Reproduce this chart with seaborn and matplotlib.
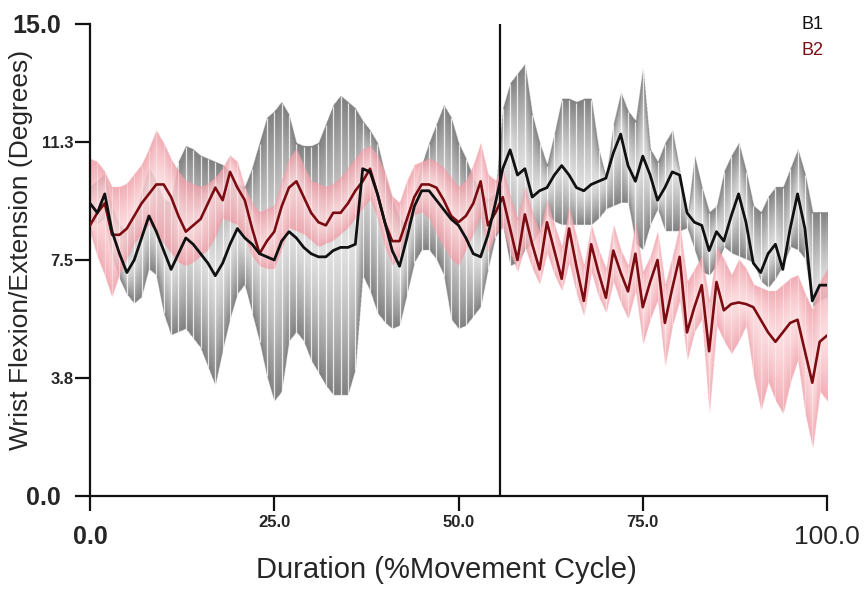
import numpy as np
import matplotlib
matplotlib.use("Agg")
import matplotlib.pyplot as plt
import seaborn as sns

# % of movement cycle
pct = list(range(101))

b1_mean = [9.3, 9.0, 9.6, 8.4, 7.7, 7.1, 7.5, 8.2, 8.9, 8.4,
           7.8, 7.2, 7.7, 8.2, 8.0, 7.7, 7.4, 7.0, 7.4, 8.0,
           8.5, 8.2, 8.0, 7.7, 7.6, 7.5, 8.1, 8.4, 8.2, 7.9,
           7.7, 7.6, 7.6, 7.8, 7.9, 7.9, 8.0, 10.4, 10.3, 9.6,
           8.7, 7.8, 7.3, 8.2, 9.2, 9.7, 9.7, 9.4, 9.1, 8.8,
           8.6, 8.2, 7.7, 7.6, 8.3, 9.3, 10.4, 11.0, 10.2, 10.4,
           9.5, 9.7, 9.8, 10.2, 10.5, 10.2, 9.8, 9.7, 9.9, 10.0,
           10.1, 10.9, 11.5, 10.5, 10.0, 10.8, 10.2, 9.4, 9.8, 10.3,
           10.2, 9.0, 8.7, 8.6, 7.8, 8.4, 8.1, 8.9, 9.6, 8.7,
           7.4, 7.1, 7.7, 8.0, 7.2, 8.5, 9.6, 8.5, 6.2, 6.7,
           6.7]
b1_upper = [9.8, 10.0, 10.2, 9.2, 8.6, 8.4, 8.8, 9.6, 10.4, 10.0,
            9.4, 9.3, 10.6, 11.1, 11.0, 10.8, 10.7, 10.6, 10.5, 10.3,
            9.9, 9.8, 10.4, 11.2, 12.0, 12.2, 12.5, 12.1, 11.2, 11.1,
            11.1, 11.2, 11.8, 12.4, 12.7, 12.5, 12.3, 11.9, 11.6, 11.2,
            10.2, 9.4, 8.8, 8.6, 9.6, 10.5, 11.2, 11.8, 12.4, 12.0,
            11.2, 10.7, 10.1, 9.6, 9.4, 9.6, 12.3, 13.1, 13.4, 13.7,
            12.1, 11.2, 10.5, 11.5, 12.6, 12.6, 12.5, 12.6, 12.6, 11.0,
            10.1, 11.8, 12.8, 12.2, 11.9, 13.6, 11.0, 10.6, 11.2, 11.6,
            10.3, 8.8, 10.8, 9.8, 9.0, 9.2, 10.3, 10.8, 11.2, 10.3,
            9.2, 9.0, 9.5, 9.8, 9.8, 10.4, 11.0, 10.2, 9.0, 9.0,
            9.0]
b1_lower = [8.8, 8.6, 8.8, 7.6, 6.9, 6.4, 6.1, 6.3, 7.2, 7.0,
            5.8, 5.1, 5.2, 5.3, 5.0, 4.7, 4.1, 3.5, 4.6, 5.6,
            6.4, 6.7, 5.8, 4.9, 3.8, 3.0, 3.3, 4.9, 5.2, 4.9,
            4.3, 3.9, 3.5, 3.2, 3.2, 3.2, 4.0, 7.0, 6.5, 5.8,
            5.5, 5.3, 5.4, 6.4, 7.4, 7.8, 7.8, 7.5, 7.0, 5.6,
            5.3, 5.4, 5.7, 6.0, 7.2, 8.2, 8.6, 7.3, 7.4, 7.8,
            8.0, 8.4, 8.9, 8.7, 8.6, 8.6, 8.6, 8.6, 8.6, 8.8,
            9.1, 9.2, 9.3, 9.3, 8.0, 7.8, 8.6, 9.1, 8.4, 8.4,
            8.4, 8.5, 7.8, 7.1, 7.0, 7.3, 7.9, 7.7, 7.6, 7.5,
            7.4, 6.8, 6.6, 6.9, 7.3, 7.9, 7.8, 7.5, 6.0, 6.2,
            6.3]

b2_mean = [8.6, 9.0, 9.3, 8.3, 8.3, 8.5, 8.9, 9.3, 9.6, 9.9,
           9.9, 9.5, 8.9, 8.4, 8.6, 8.8, 9.3, 9.8, 9.4, 10.3,
           9.8, 9.4, 8.5, 7.7, 8.1, 8.4, 9.2, 9.8, 10.0, 9.5,
           9.0, 8.7, 8.6, 9.0, 9.0, 9.3, 9.7, 10.0, 10.4, 9.6,
           8.7, 8.1, 8.1, 8.8, 9.5, 9.9, 9.9, 9.8, 9.4, 8.9,
           8.7, 8.9, 9.3, 10.0, 8.6, 9.0, 9.5, 8.5, 7.5, 8.95,
           8.0, 7.2, 8.7, 7.8, 6.9, 8.5, 7.3, 6.2, 8.0, 7.1,
           6.3, 7.8, 7.1, 6.5, 7.7, 6.0, 6.8, 7.5, 5.5, 6.6,
           7.6, 5.2, 6.0, 6.7, 4.6, 6.8, 5.9, 6.1, 6.15, 6.1,
           6.0, 5.6, 5.2, 4.9, 5.2, 5.5, 5.6, 4.6, 3.6, 4.9,
           5.1]
b2_upper = [10.7, 10.6, 10.3, 9.8, 9.8, 9.9, 10.2, 10.5, 11.0, 11.6,
            11.2, 10.7, 10.3, 10.0, 9.9, 9.8, 9.9, 10.1, 10.4, 10.8,
            10.6, 9.8, 9.3, 9.0, 9.1, 9.2, 10.0, 10.7, 11.0, 10.5,
            10.0, 9.9, 9.8, 9.9, 10.1, 10.4, 10.7, 11.0, 11.1, 10.8,
            10.3, 9.5, 9.3, 10.0, 10.5, 10.6, 10.7, 10.6, 10.4, 10.1,
            9.8, 10.0, 10.5, 11.2, 10.2, 10.0, 10.4, 9.5, 8.8, 9.8,
            9.0, 8.4, 9.4, 8.6, 7.9, 9.2, 8.2, 7.3, 8.6, 7.8,
            7.2, 8.6, 7.8, 7.3, 8.7, 7.1, 7.6, 8.4, 6.7, 7.6,
            8.6, 6.8, 7.2, 7.6, 6.2, 7.9, 7.5, 7.0, 7.5, 7.2,
            6.7, 6.6, 6.5, 6.5, 6.7, 6.9, 7.0, 6.4, 5.9, 6.8,
            7.2]
b2_lower = [8.4, 7.6, 7.0, 6.3, 7.0, 7.5, 8.0, 8.3, 8.6, 8.4,
            8.0, 7.7, 7.4, 7.3, 7.4, 7.6, 7.8, 8.2, 8.8, 8.7,
            8.6, 8.2, 7.6, 7.3, 7.2, 7.2, 7.8, 8.5, 8.4, 8.3,
            8.1, 7.9, 8.0, 8.1, 8.3, 8.5, 8.8, 9.1, 9.4, 8.8,
            7.9, 7.3, 7.6, 8.6, 8.9, 9.0, 8.8, 8.3, 7.9, 7.5,
            7.3, 7.8, 8.3, 8.9, 7.7, 8.3, 8.5, 7.7, 7.1, 7.9,
            7.2, 6.7, 7.7, 7.0, 6.5, 7.4, 6.4, 5.7, 7.1, 6.3,
            5.8, 6.8, 6.1, 5.6, 6.5, 4.8, 5.6, 6.2, 4.1, 5.4,
            6.2, 4.3, 5.2, 5.6, 2.6, 5.4, 4.9, 4.5, 4.9, 5.4,
            3.8, 2.7, 3.6, 3.0, 2.6, 3.6, 4.3, 2.6, 1.5, 3.3,
            3.0]

phase_split = 55.6

x_ticks = [0, 25, 50, 75, 100]
x_tick_labels = ["0.0", "25.0", "50.0", "75.0", "100.0"]
y_ticks = [0, 3.75, 7.5, 11.25, 15]
y_tick_labels = ["0.0", "3.8", "7.5", "11.3", "15.0"]

series_names = ["B1", "B2"]
line_colors = ["#111111", "#7d0c12"]

sns.set_style("ticks")
plt.rcParams["font.family"] = ["Liberation Sans", "DejaVu Sans"]

fig = plt.figure(figsize=(8.67, 5.95), dpi=100)
ax = fig.add_axes([0.1038, 0.1664, 0.8501, 0.7933])


def shaded_band(ax, x, lo, mid, hi, light, dark, alpha, z):
    """Band between lo and hi, shading darker toward the outer edges."""
    gx = np.linspace(0, 100, 2000)
    gy = np.linspace(0, 15, 900)
    L = np.interp(gx, x, lo)
    H = np.interp(gx, x, hi)
    M = np.clip(np.interp(gx, x, mid), L, H)
    Y = gy[:, None]
    up = (Y - M) / np.maximum(H - M, 1e-3)
    dn = (M - Y) / np.maximum(M - L, 1e-3)
    t = np.clip(np.where(Y >= M, up, dn), 0, 1) ** 1.3
    inside = (Y >= L) & (Y <= H)
    light = np.array(light)
    dark = np.array(dark)
    rgba = np.zeros((len(gy), len(gx), 4))
    rgba[..., :3] = light * (1 - t[..., None]) + dark * t[..., None]
    rgba[..., 3] = inside * alpha
    ax.imshow(rgba, extent=(0, 100, 0, 15), origin="lower", aspect="auto",
              interpolation="bilinear", zorder=z)


# B1 band (grey, striped)
shaded_band(ax, pct, b1_lower, b1_mean, b1_upper,
            (0.88, 0.88, 0.88), (0.50, 0.50, 0.50), 1.0, 1)
ax.vlines(pct, b1_lower, b1_upper, colors="white", linewidth=0.9,
          alpha=0.8, zorder=1.1)

# B2 band (pink, striped)
shaded_band(ax, pct, b2_lower, b2_mean, b2_upper,
            (0.99, 0.85, 0.86), (0.94, 0.62, 0.66), 0.85, 2)
ax.vlines(pct, b2_lower, b2_upper, colors="white", linewidth=0.7,
          alpha=0.4, zorder=2.1)

sns.lineplot(x=pct, y=b1_mean, color=line_colors[0], linewidth=2.0,
             ax=ax, zorder=4)
sns.lineplot(x=pct, y=b2_mean, color=line_colors[1], linewidth=1.9,
             ax=ax, zorder=3)

ax.axvline(phase_split, color="#111111", linewidth=1.6, zorder=5)

ax.set_xlim(0, 100)
ax.set_ylim(0, 15)
sns.despine(ax=ax)
for side in ("left", "bottom"):
    ax.spines[side].set_linewidth(1.6)
    ax.spines[side].set_color("#111111")

ax.set_xticks(x_ticks)
ax.set_xticklabels(x_tick_labels)
ax.set_yticks(y_ticks)
ax.set_yticklabels(y_tick_labels)
ax.tick_params(axis="both", direction="out", length=11, width=1.6,
               color="#111111")

big = {0, 4}
for i, (tick, lab) in enumerate(zip(ax.xaxis.get_major_ticks(),
                                    ax.get_xticklabels())):
    if i in big:
        lab.set_fontsize(18 if i == 0 else 19)
        lab.set_fontweight("bold" if i == 0 else "normal")
        tick.set_pad(10)
    else:
        lab.set_fontsize(12)
        lab.set_fontweight("bold")
        tick.set_pad(3)
for i, (tick, lab) in enumerate(zip(ax.yaxis.get_major_ticks(),
                                    ax.get_yticklabels())):
    if i in big:
        lab.set_fontsize(18)
        lab.set_fontweight("bold")
        tick.set_pad(10)
    else:
        lab.set_fontsize(12)
        lab.set_fontweight("bold")
        tick.set_pad(1)

ax.set_xlabel("Duration (%Movement Cycle)", fontsize=21)
ax.xaxis.set_label_coords(0.484, -0.127)
ax.set_ylabel("Wrist Flexion/Extension (Degrees)", fontsize=19)
ax.yaxis.set_label_coords(-0.077, 0.521)

for name, col, yy in zip(series_names, line_colors, [1.017, 0.962]):
    ax.text(0.965, yy, name, color=col, fontsize=13, transform=ax.transAxes,
            ha="left", va="top")

fig.savefig("out.png", dpi=100)
